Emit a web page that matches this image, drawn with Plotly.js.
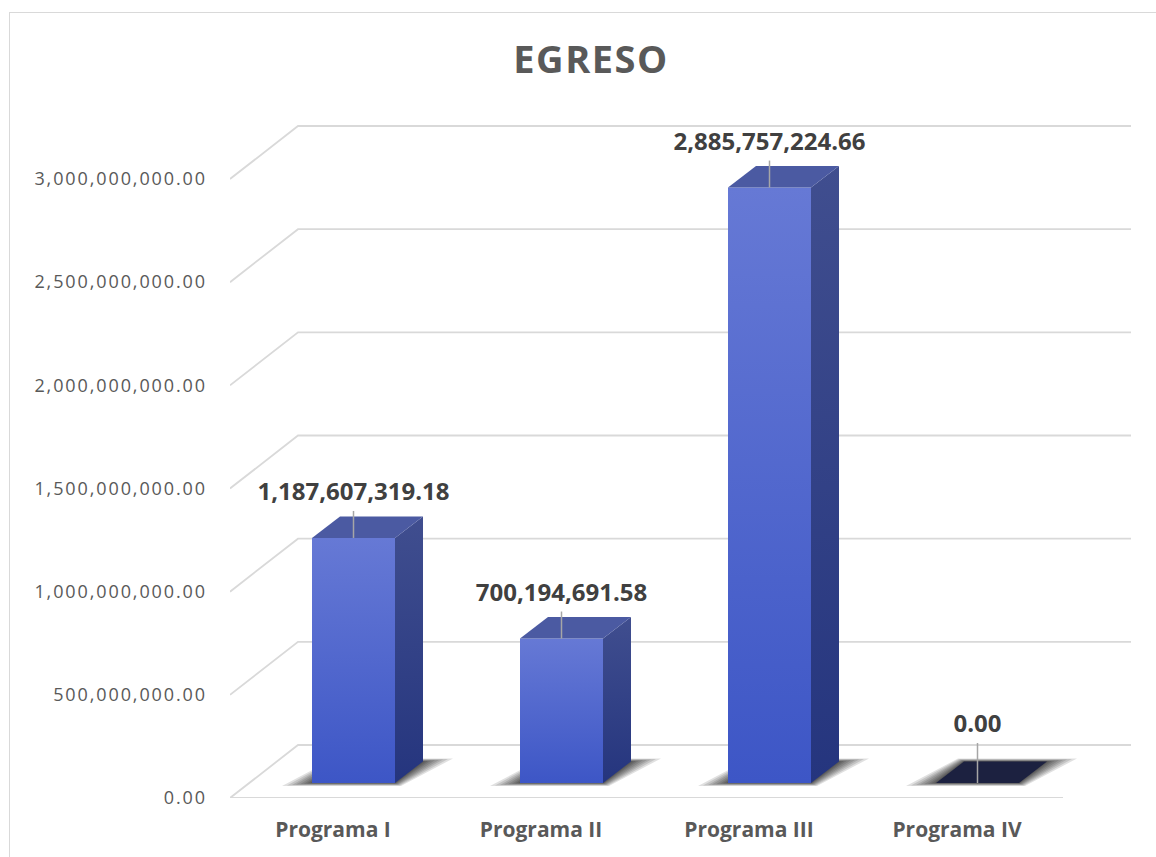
<!DOCTYPE html>
<html>
<head>
<meta charset="utf-8">
<script src="https://cdn.plot.ly/plotly-3.0.1.min.js"></script>
<style>
  html, body { margin: 0; padding: 0; background: #ffffff; }
  #wrap { position: relative; width: 1156px; height: 857px; overflow: hidden; }
  #chart { width: 1156px; height: 857px; }
  #frame { position: absolute; left: 9px; top: 12px; width: 1200px; height: 900px;
           border: 1.5px solid #D9D9D9; pointer-events: none; }
  .ytick text { letter-spacing: 1.9px; }
  .gtitle { letter-spacing: 1.5px; }
</style>
</head>
<body>
<div id="wrap">
  <div id="chart"></div>
  <div id="frame"></div>
</div>
<script>
// ---------- data ----------
const categories = ['Programa I', 'Programa II', 'Programa III', 'Programa IV'];
const values = [1187607319.18, 700194691.58, 2885757224.66, 0];
const yTickVals = [0, 500000000, 1000000000, 1500000000, 2000000000, 2500000000, 3000000000];
const chartTitle = 'EGRESO';

// ---------- geometry (pixels -> axis units) ----------
const W = 1156, H = 857;
const M = { l: 230, r: 25, t: 100, b: 59 };
const plotW = W - M.l - M.r, plotH = H - M.t - M.b;
const PXV = 619 / 3000000000;          // px per value unit
const XPX = 208;                        // px per category step
const xMin = -103 / XPX;
const xMax = xMin + plotW / XPX;
const yMax = plotH / PXV;
const ux = px => px / XPX;
const uy = px => px / PXV;

const wallDX = ux(68), wallDY = uy(53);     // full depth of the floor
const barOff = ux(-21), barW = ux(83);      // front face x-offset & width
const barBase = uy(15);                     // front face bottom above front floor
const depDX = ux(28), depDY = uy(21.5);     // bar depth

const gridColor = '#D9D9D9';
const traces = [];

// back-wall gridlines with diagonal on left wall
const gx = [], gy = [];
yTickVals.forEach(v => {
  gx.push(xMin, xMin + wallDX, xMax, null);
  gy.push(v, v + wallDY, v + wallDY, null);
});
gx.push(xMin, xMax - wallDX, null);
gy.push(0, 0, null);
traces.push({ type: 'scatter', mode: 'lines', x: gx, y: gy, cliponaxis: false,
  line: { color: gridColor, width: 1.8 }, hoverinfo: 'skip', showlegend: false });

// soft floor shadows
const shadowSteps = [30, 25, 20, 16, 12, 8, 5, 2];
values.forEach((v, i) => {
  const x0 = i + barOff, x1 = x0 + barW;
  shadowSteps.forEach(e => {
    const ex = ux(e), ey = uy(e * 0.1);
    traces.push({ type: 'scatter', mode: 'lines', fill: 'toself', cliponaxis: false,
      x: [x0 - ex, x1 + ex * 0.2, x1 + depDX + ex, x0 + depDX - ex * 0.2, x0 - ex],
      y: [barBase - ey, barBase - ey, barBase + depDY + ey, barBase + depDY + ey, barBase - ey],
      line: { width: 0 }, fillcolor: 'rgba(0,0,0,0.12)', hoverinfo: 'skip', showlegend: false });
  });
});

// bars: front, side, top
values.forEach((v, i) => {
  const x0 = i + barOff, x1 = x0 + barW;
  const top = barBase + v;
  if (v > 0) {
    traces.push({ type: 'scatter', mode: 'lines', fill: 'toself', cliponaxis: false,
      x: [x0, x1, x1, x0, x0], y: [barBase, barBase, top, top, barBase],
      line: { width: 0 },
      fillgradient: { type: 'vertical', colorscale: [[0, '#3D56C6'], [1, '#6679D5']] },
      hoverinfo: 'skip', showlegend: false });
    traces.push({ type: 'scatter', mode: 'lines', fill: 'toself', cliponaxis: false,
      x: [x1, x1 + depDX, x1 + depDX, x1, x1],
      y: [barBase, barBase + depDY, top + depDY, top, barBase],
      line: { width: 0 },
      fillgradient: { type: 'vertical', colorscale: [[0, '#25357E'], [1, '#404E8F']] },
      hoverinfo: 'skip', showlegend: false });
  }
  traces.push({ type: 'scatter', mode: 'lines', fill: 'toself', cliponaxis: false,
    x: [x0, x1, x1 + depDX, x0 + depDX, x0],
    y: [top, top, top + depDY, top + depDY, top],
    line: { width: 0 }, fillcolor: v > 0 ? '#4B5AA2' : '#1C2140',
    hoverinfo: 'skip', showlegend: false });
});

// data labels with leader lines
const lx = [], ly = [], tx = [], ty = [], tt = [];
values.forEach((v, i) => {
  const xc = i + barOff + barW / 2;
  const top = barBase + v;
  const labelY = Math.max(top + uy(44), wallDY + uy(19));
  lx.push(xc, xc, null);
  ly.push(top, labelY - uy(17), null);
  tx.push(xc); ty.push(labelY);
  tt.push(v.toLocaleString('en-US', { minimumFractionDigits: 2, maximumFractionDigits: 2 }));
});
traces.push({ type: 'scatter', mode: 'lines', x: lx, y: ly, cliponaxis: false,
  line: { color: '#A6A6A6', width: 1.5 }, hoverinfo: 'skip', showlegend: false });
traces.push({ type: 'scatter', mode: 'text', x: tx, y: ty, text: tt, cliponaxis: false,
  textposition: 'middle center',
  textfont: { family: 'Open Sans', size: 24, color: '#404040', weight: 'bold' },
  hoverinfo: 'skip', showlegend: false });

const layout = {
  width: W, height: H,
  margin: M,
  paper_bgcolor: '#ffffff', plot_bgcolor: 'rgba(0,0,0,0)',
  showlegend: false,
  hovermode: false,
  title: {
    text: chartTitle,
    font: { family: 'Open Sans', size: 38, color: '#595959', weight: 'bold' },
    xref: 'container', yref: 'container',
    x: 591 / W, xanchor: 'center', y: 1 - 60 / H, yanchor: 'middle'
  },
  xaxis: {
    range: [xMin, xMax], tickvals: categories.map((c, i) => i), ticktext: categories,
    showgrid: false, zeroline: false, showline: false, ticks: '',
    ticklabelstandoff: 17,
    tickfont: { family: 'Open Sans', size: 21, color: '#595959', weight: 'bold' },
    fixedrange: true
  },
  yaxis: {
    range: [0, yMax], tickvals: yTickVals, tickformat: ',.2f',
    showgrid: false, zeroline: false, showline: false, ticks: '',
    ticklabelstandoff: 22,
    tickfont: { family: 'Open Sans', size: 18, color: '#595959' },
    fixedrange: true
  }
};

Plotly.newPlot('chart', traces, layout, { staticPlot: true, displayModeBar: false });
</script>
</body>
</html>
